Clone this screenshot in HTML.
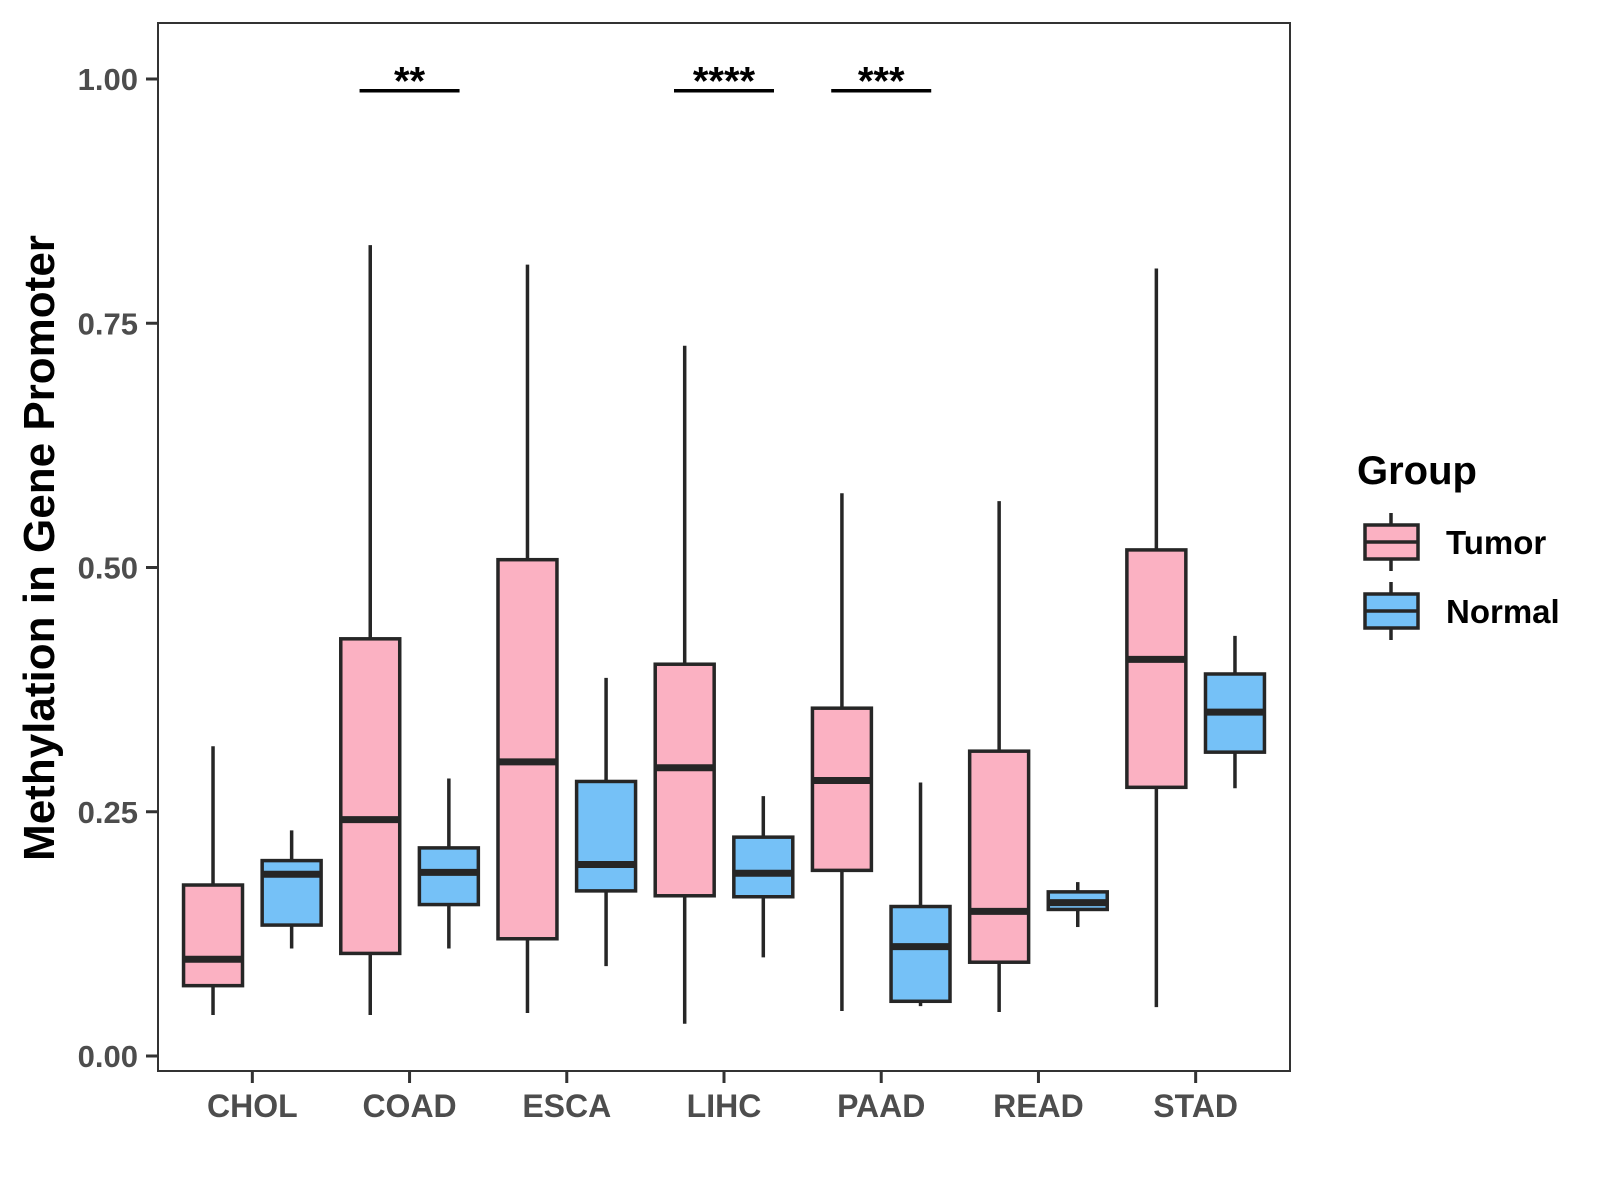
<!DOCTYPE html>
<html><head><meta charset="utf-8"><style>
body{margin:0;background:#fff;}
svg{display:block;font-family:"Liberation Sans",Arial,sans-serif;}
</style></head><body>
<svg id="chart" width="1600" height="1200"></svg>
<script>
const categories=["CHOL","COAD","ESCA","LIHC","PAAD","READ","STAD"];
// [lowWhisker, Q1, median, Q3, highWhisker]
const tumorStats=[[0.042,0.072,0.099,0.175,0.317],[0.042,0.105,0.242,0.427,0.83],[0.044,0.12,0.301,0.508,0.81],[0.033,0.164,0.295,0.401,0.727],[0.046,0.19,0.282,0.356,0.576],[0.045,0.096,0.148,0.312,0.568],[0.05,0.275,0.406,0.518,0.806]];
const normalStats=[[0.11,0.134,0.186,0.2,0.231],[0.11,0.155,0.188,0.213,0.284],[0.092,0.169,0.196,0.281,0.387],[0.101,0.163,0.187,0.224,0.266],[0.051,0.056,0.112,0.153,0.28],[0.132,0.15,0.157,0.168,0.178],[0.274,0.311,0.352,0.391,0.43]];
const yTicks=[0,0.25,0.5,0.75,1.0];
const yTickLabels=["0.00","0.25","0.50","0.75","1.00"];
const sigCategories=["COAD","LIHC","PAAD"];
const sigLabels=["**","****","***"];
const sigLevel=0.988;

const NS="http://www.w3.org/2000/svg";
const svg=document.getElementById('chart');
const L=158,R=1290,T=23,B=1071;
const step=(R-L)/(categories.length-1+1.2);
const xScale=i=>L+step*(0.6+i);
const yScale=v=>1056-v*977;
function el(tag,attrs,parent){const e=document.createElementNS(NS,tag);for(const k in attrs)e.setAttribute(k,attrs[k]);(parent||svg).appendChild(e);return e;}
const ink="#262626";
const panel=el('rect',{x:L,y:T,width:R-L,height:B-T,fill:'none',stroke:'#333',"stroke-width":2});


yTicks.forEach((v,i)=>{
  const y=yScale(v);
  const t=el('line',{x1:L-12,x2:L,y1:y,y2:y,stroke:'#333',"stroke-width":3});
  
  
  const tx=el('text',{x:L-20,y:y+11,"text-anchor":"end","font-size":31,"font-weight":"bold",fill:"#4D4D4D"});
  tx.textContent=yTickLabels[i];
  
  
});
categories.forEach((c,i)=>{
  const x=xScale(i);
  const t=el('line',{x1:x,x2:x,y1:B,y2:B+12,stroke:'#333',"stroke-width":3});
  
  
  const tx=el('text',{x:x,y:B+46,"text-anchor":"middle","font-size":32,"font-weight":"bold",fill:"#4D4D4D"});
  tx.textContent=c;
  
  
});
const bw=step*0.375, off=step*0.25;
function drawBox(s,cx,fill,name){
  const g=el('g',{});
  
  
  el('line',{x1:cx,x2:cx,y1:yScale(s[0]),y2:yScale(s[4]),stroke:ink,"stroke-width":3.5},g);
  el('rect',{x:cx-bw/2,y:yScale(s[3]),width:bw,height:yScale(s[1])-yScale(s[3]),fill:fill,stroke:ink,"stroke-width":3.5},g);
  el('line',{x1:cx-bw/2,x2:cx+bw/2,y1:yScale(s[2]),y2:yScale(s[2]),stroke:ink,"stroke-width":7},g);
}
categories.forEach((c,i)=>{
  drawBox(tumorStats[i],xScale(i)-off,"#FBB1C2",'box-tumor-'+c.toLowerCase());
  drawBox(normalStats[i],xScale(i)+off,"#75C1F7",'box-normal-'+c.toLowerCase());
});
sigCategories.forEach((c,k)=>{
  const i=categories.indexOf(c),x=xScale(i),y=yScale(sigLevel);
  const ln=el('line',{x1:x-50,x2:x+50,y1:y,y2:y,stroke:'#000',"stroke-width":3.5});
  
  
  const tx=el('text',{x:x,y:y+4,"text-anchor":"middle","font-size":40,"font-weight":"bold",fill:"#000"});
  tx.textContent=sigLabels[k];
  
  
});
const yt=el('text',{x:0,y:0,transform:'translate(54,548) rotate(-90)',"text-anchor":"middle","font-size":44,"font-weight":"bold",fill:"#000"});
yt.textContent="Methylation in Gene Promoter";


const lt=el('text',{x:1357,y:484,"font-size":40,"font-weight":"bold",fill:"#000"});
lt.textContent="Group";


[["Tumor","#FBB1C2",525],["Normal","#75C1F7",594]].forEach(([n,f,y])=>{
  const g=el('g',{});
  
  
  el('line',{x1:1391,x2:1391,y1:y-12,y2:y+46,stroke:ink,"stroke-width":3.5},g);
  el('rect',{x:1365,y:y,width:53,height:34,fill:f,stroke:ink,"stroke-width":3.5},g);
  el('line',{x1:1365,x2:1418,y1:y+17,y2:y+17,stroke:ink,"stroke-width":3.5},g);
  const t=el('text',{x:1446,y:y+29,"font-size":33,"font-weight":"bold",fill:"#000"},g);
  t.textContent=n;
});
</script>
</body></html>
